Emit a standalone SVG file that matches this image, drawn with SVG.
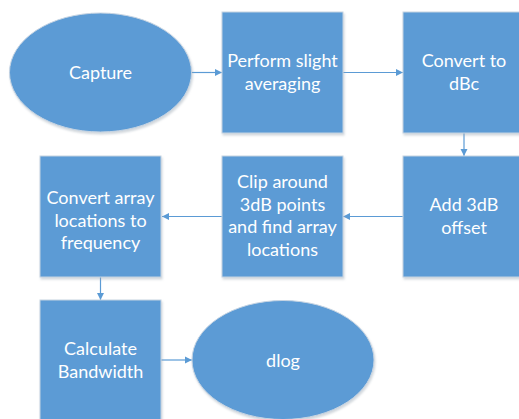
<svg xmlns="http://www.w3.org/2000/svg" width="519" height="419" viewBox="0 0 519 419">
<style>
.n{fill:#5b9bd5;stroke:#c5d3e2;stroke-width:1;filter:url(#sh)}
.t{fill:#ffffff;font-family:Lato,"Open Sans","Liberation Sans",sans-serif;font-size:18px;text-anchor:middle}
.c{stroke:#5b9bd5;stroke-width:1.2;fill:none;marker-end:url(#ah)}
</style>
<defs>
<marker id="ah" markerWidth="8" markerHeight="8" refX="7" refY="4" orient="auto" markerUnits="userSpaceOnUse">
<path d="M0,0.5 L7,4 L0,7.5 Z" fill="#5b9bd5"/>
</marker>
<filter id="sh" x="-10%" y="-10%" width="125%" height="125%">
<feDropShadow dx="1" dy="2" stdDeviation="1.2" flood-color="#9aa6b2" flood-opacity="0.45"/>
</filter>
</defs>
<rect width="519" height="419" fill="#ffffff"/>
<g id="connectors">
<line class="c" x1="191.5" y1="72.5" x2="222" y2="72.5"/>
<line class="c" x1="343" y1="72.5" x2="403" y2="72.5"/>
<line class="c" x1="464" y1="133" x2="464" y2="156"/>
<line class="c" x1="403" y1="216.5" x2="343" y2="216.5"/>
<line class="c" x1="222" y1="216.5" x2="162" y2="216.5"/>
<line class="c" x1="100.5" y1="277" x2="100.5" y2="300"/>
<line class="c" x1="161" y1="360" x2="192" y2="360"/>
</g>
<g id="capture">
<ellipse class="n" cx="100.5" cy="72.5" rx="91" ry="59.5"/>
<text class="t" x="100.5" y="79">Capture</text>
</g>
<g id="averaging">
<rect class="n" x="222" y="12" width="121" height="121"/>
<text class="t" x="282.5" y="67">Perform slight</text>
<text class="t" x="282.5" y="89.5">averaging</text>
</g>
<g id="dbc">
<rect class="n" x="403" y="12" width="121" height="121"/>
<text class="t" x="464" y="67">Convert to</text>
<text class="t" x="464" y="89.5">dBc</text>
</g>
<g id="offset">
<rect class="n" x="403" y="156" width="121" height="121"/>
<text class="t" x="464" y="211">Add 3dB</text>
<text class="t" x="464" y="233.5">offset</text>
</g>
<g id="clip">
<rect class="n" x="222" y="156" width="121" height="121"/>
<text class="t" x="282.5" y="188">Clip around</text>
<text class="t" x="282.5" y="210.5">3dB points</text>
<text class="t" x="282.5" y="233">and find array</text>
<text class="t" x="282.5" y="255.5">locations</text>
</g>
<g id="frequency">
<rect class="n" x="40" y="156" width="121" height="121"/>
<text class="t" x="100.5" y="204">Convert array</text>
<text class="t" x="100.5" y="226.5">locations to</text>
<text class="t" x="100.5" y="249">frequency</text>
</g>
<g id="bandwidth">
<rect class="n" x="40" y="300" width="121" height="121"/>
<text class="t" x="100.5" y="355">Calculate</text>
<text class="t" x="100.5" y="377.5">Bandwidth</text>
</g>
<g id="dlog">
<ellipse class="n" cx="283" cy="360" rx="91" ry="59.5"/>
<text class="t" x="283" y="366.5">dlog</text>
</g>
</svg>
